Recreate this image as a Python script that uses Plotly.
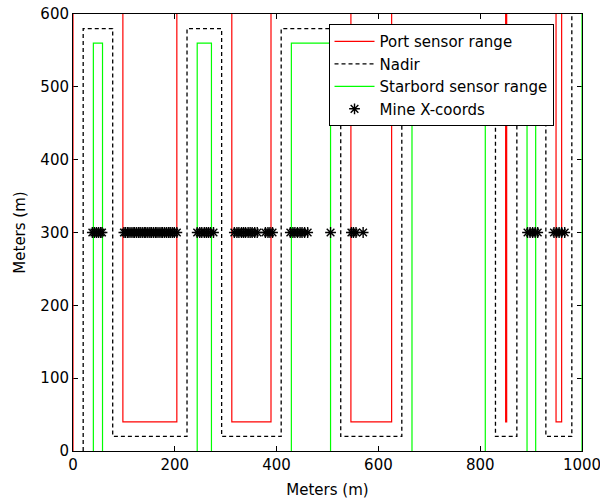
import plotly.graph_objects as go

# Survey track (nadir) leg x-positions, legs alternate up/down starting upward
nadir_legs = [20, 78, 224, 292, 409, 526, 646, 830, 872, 929, 980]
sensor_range = 20
nadir_top, nadir_bottom = 580, 20
start_y, end_y = 0, 600
# outer sensor turns fall outside the plotted area
port_top_turn, port_bottom_turn = 620, 40
stbd_top_turn, stbd_bottom_turn = 560, -20

mine_x = [38, 42, 46, 50, 54, 57,
          100, 103, 107, 110, 114, 118, 121, 125, 129, 132, 136, 140, 143, 147,
          151, 154, 158, 162, 165, 169, 173, 176, 180, 184, 188, 191, 195, 199, 204,
          244, 249, 253, 258, 262, 266, 270, 276,
          317, 322, 326, 331, 335, 339, 344, 348, 352, 357, 362,
          378, 383, 387, 392,
          427, 432, 436, 441, 446, 450, 455, 461,
          506,
          547, 551, 556,
          570,
          893, 898, 903, 908, 913,
          945, 950, 955, 960, 966]
mine_y = [300] * len(mine_x)

x_ticks = [0, 200, 400, 600, 800, 1000]
y_ticks = [0, 100, 200, 300, 400, 500, 600]


def build_path(offset_sign_up, top_turn, bottom_turn, top_end, bottom_start):
    xs, ys = [], []
    n = len(nadir_legs)
    for i, xn in enumerate(nadir_legs):
        up = (i % 2 == 0)
        x = xn + (offset_sign_up * sensor_range if up else -offset_sign_up * sensor_range)
        if up:
            y0 = bottom_start if i == 0 else bottom_turn
            y1 = top_end if i == n - 1 else top_turn
        else:
            y0, y1 = top_turn, bottom_turn
        xs += [x, x]
        ys += [y0, y1]
    return xs, ys


port_x, port_y = build_path(-1, port_top_turn, port_bottom_turn, end_y, start_y)
stbd_x, stbd_y = build_path(+1, stbd_top_turn, stbd_bottom_turn, end_y, start_y)
nad_x, nad_y = build_path(0, nadir_top, nadir_bottom, end_y, start_y)

FONT = "DejaVu Sans, Arial, sans-serif"
FS = 15

fig = go.Figure()
fig.add_trace(go.Scatter(x=port_x, y=port_y, mode="lines", name="Port sensor range",
                         line=dict(color="#ff0000", width=1.2)))
fig.add_trace(go.Scatter(x=nad_x, y=nad_y, mode="lines", name="Nadir",
                         line=dict(color="black", width=1.3, dash="4px,3px")))
fig.add_trace(go.Scatter(x=stbd_x, y=stbd_y, mode="lines", name="Starbord sensor range",
                         line=dict(color="#00ff00", width=1.2)))
fig.add_trace(go.Scatter(x=mine_x, y=mine_y, mode="markers", name="Mine X-coords",
                         marker=dict(symbol="asterisk-open", size=9, color="black",
                                     line=dict(color="black", width=1.4))))

axis_common = dict(showgrid=False, zeroline=False, showline=True, linecolor="black",
                   linewidth=1, mirror="allticks", ticks="inside", ticklen=5,
                   tickcolor="black", tickwidth=1, layer="below traces",
                   automargin=False, ticklabeloverflow="allow",
                   tickfont=dict(family=FONT, size=FS, color="black"))

fig.update_layout(
    width=600, height=499,
    margin=dict(l=73, r=18, t=14, b=48, autoexpand=False),
    paper_bgcolor="white", plot_bgcolor="white",
    font=dict(family=FONT, size=FS, color="black"),
    xaxis=dict(range=[0, 1000], tickvals=x_ticks, title=dict(text="Meters (m)", standoff=12,
               font=dict(family=FONT, size=FS)), **axis_common),
    yaxis=dict(range=[0, 600], tickvals=y_ticks, title=dict(text="Meters (m)", standoff=11,
               font=dict(family=FONT, size=FS)), **axis_common),
    legend=dict(x=0.502, y=0.977, xanchor="left", yanchor="top",
                bgcolor="white", bordercolor="black", borderwidth=1,
                font=dict(family=FONT, size=FS), itemwidth=40,
                entrywidth=232, entrywidthmode="pixels",
                tracegroupgap=0),
    showlegend=True,
)

# remove the default page margin so the 600x499 figure fills the window exactly
fig.write_html("out.html", config={"displayModeBar": False},
               post_script="document.body.style.margin='0';document.body.style.overflow='hidden';")
